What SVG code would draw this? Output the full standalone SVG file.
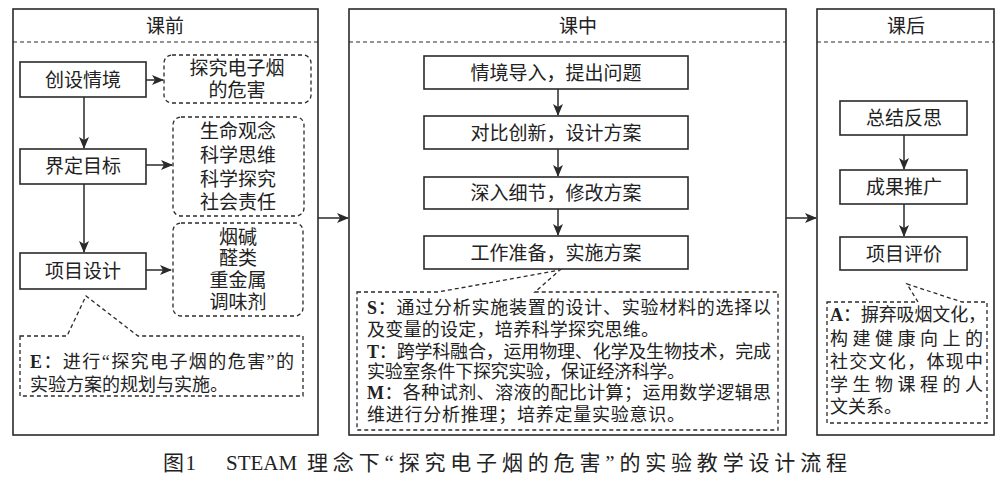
<svg xmlns="http://www.w3.org/2000/svg" width="1000" height="481" viewBox="0 0 1000 481">
<style>
text{font-family:"Liberation Serif","Noto Sans CJK SC",serif;fill:#222;dominant-baseline:central}
.t{font-size:19px;text-anchor:middle}
.c{font-size:18px}
.cap{font-size:21px}
.b{font-weight:bold}
.panel{fill:none;stroke:#2a2a2a;stroke-width:1.6}
.sep{fill:none;stroke:#2a2a2a;stroke-width:1.2;stroke-dasharray:4 3}
.node{fill:#fff;stroke:#2a2a2a;stroke-width:1.6}
.dbox{fill:#fff;stroke:#2a2a2a;stroke-width:1.3;stroke-dasharray:4 3}
.edge{fill:none;stroke:#2a2a2a;stroke-width:1.5;marker-end:url(#ah)}
</style>
<defs>
<marker id="ah" viewBox="0 0 12 10" refX="11" refY="5" markerWidth="12" markerHeight="10" markerUnits="userSpaceOnUse" orient="auto">
<path d="M0,0 L12,5 L0,10 L3,5 Z" fill="#2a2a2a"/>
</marker>
</defs>
<rect width="1000" height="481" fill="#fff"/>

<g id="panel-before">
<rect class="panel" x="13" y="9" width="305" height="426"/>
<line class="sep" x1="13" y1="42" x2="318" y2="42"/>
<text class="t" x="165" y="26">课前</text>
</g>
<g id="panel-during">
<rect class="panel" x="349" y="9" width="437" height="426"/>
<line class="sep" x1="349" y1="42" x2="786" y2="42"/>
<text class="t" x="578" y="26">课中</text>
</g>
<g id="panel-after">
<rect class="panel" x="817" y="9" width="177" height="426"/>
<line class="sep" x1="817" y1="42" x2="994" y2="42"/>
<text class="t" x="906" y="26">课后</text>
</g>

<g id="connectors">
<line class="edge" x1="146" y1="80" x2="163" y2="80"/>
<line class="edge" x1="146" y1="165" x2="172" y2="165"/>
<line class="edge" x1="146" y1="270" x2="171" y2="270"/>
<line class="edge" x1="84" y1="97" x2="84" y2="148"/>
<line class="edge" x1="84" y1="184" x2="84" y2="252"/>
<line class="edge" x1="558" y1="89" x2="558" y2="115"/>
<line class="edge" x1="558" y1="149" x2="558" y2="176"/>
<line class="edge" x1="558" y1="209" x2="558" y2="235"/>
<line class="edge" x1="904" y1="135" x2="904" y2="169"/>
<line class="edge" x1="904" y1="204" x2="904" y2="236"/>
<line class="edge" x1="318" y1="218" x2="348" y2="218"/>
<line class="edge" x1="786" y1="218" x2="816" y2="218"/>
</g>

<g id="n-chuangshe"><rect class="node" x="20" y="62" width="126" height="35"/><text class="t" x="83" y="80">创设情境</text></g>
<g id="n-weihai"><rect class="dbox" x="164" y="55" width="147" height="48" rx="8"/><text class="t" x="237" y="68">探究电子烟</text><text class="t" x="237" y="90">的危害</text></g>
<g id="n-jieding"><rect class="node" x="20" y="149" width="126" height="35"/><text class="t" x="83" y="166">界定目标</text></g>
<g id="n-suyang"><rect class="dbox" x="173" y="117" width="131" height="99" rx="8"/>
<text class="t" x="238" y="131">生命观念</text><text class="t" x="238" y="155">科学思维</text><text class="t" x="238" y="179">科学探究</text><text class="t" x="238" y="202">社会责任</text></g>
<g id="n-xiangmu"><rect class="node" x="20" y="253" width="126" height="36"/><text class="t" x="83" y="271">项目设计</text></g>
<g id="n-chengfen"><rect class="dbox" x="173" y="223" width="130" height="93" rx="8"/>
<text class="t" x="238" y="237">烟碱</text><text class="t" x="238" y="258">醛类</text><text class="t" x="238" y="280">重金属</text><text class="t" x="238" y="302">调味剂</text></g>
<g id="n-E">
<path class="dbox" d="M20,336 L67,336 L86,296 L138,336 L303,336 L303,396 L20,396 Z"/>
<text class="c" x="30" y="362" textLength="264" lengthAdjust="spacing"><tspan class="b">E</tspan>：进行“探究电子烟的危害”的</text>
<text class="c" x="30" y="385">实验方案的规划与实施。</text>
</g>

<g id="n-m1"><rect class="node" x="424" y="56" width="264" height="33"/><text class="t" x="556" y="73">情境导入，提出问题</text></g>
<g id="n-m2"><rect class="node" x="424" y="116" width="264" height="33"/><text class="t" x="556" y="133">对比创新，设计方案</text></g>
<g id="n-m3"><rect class="node" x="424" y="177" width="264" height="32"/><text class="t" x="556" y="193">深入细节，修改方案</text></g>
<g id="n-m4"><rect class="node" x="424" y="236" width="264" height="33"/><text class="t" x="556" y="253">工作准备，实施方案</text></g>
<g id="n-STM">
<path class="dbox" d="M357,292 L438,292 L560,270 L535,292 L778,292 L778,430 L357,430 Z"/>
<text class="c" x="367" y="308" textLength="404" lengthAdjust="spacing"><tspan class="b">S</tspan>：通过分析实施装置的设计、实验材料的选择以</text>
<text class="c" x="367" y="330" textLength="292" lengthAdjust="spacing">及变量的设定，培养科学探究思维。</text>
<text class="c" x="367" y="352" textLength="404" lengthAdjust="spacing"><tspan class="b">T</tspan>：跨学科融合，运用物理、化学及生物技术，完成</text>
<text class="c" x="367" y="372" textLength="318" lengthAdjust="spacing">实验室条件下探究实验，保证经济科学。</text>
<text class="c" x="367" y="393" textLength="404" lengthAdjust="spacing"><tspan class="b">M</tspan>：各种试剂、溶液的配比计算；运用数学逻辑思</text>
<text class="c" x="367" y="415" textLength="318" lengthAdjust="spacing">维进行分析推理；培养定量实验意识。</text>
</g>

<g id="n-r1"><rect class="node" x="840" y="101" width="127" height="34"/><text class="t" x="904" y="118">总结反思</text></g>
<g id="n-r2"><rect class="node" x="840" y="170" width="127" height="34"/><text class="t" x="904" y="187">成果推广</text></g>
<g id="n-r3"><rect class="node" x="840" y="237" width="127" height="33"/><text class="t" x="904" y="254">项目评价</text></g>
<g id="n-A">
<path class="dbox" d="M827,302 L918,302 L907,284 L962,302 L987,302 L987,423 L827,423 Z"/>
<text class="c" x="830" y="315" textLength="156" lengthAdjust="spacing"><tspan class="b">A</tspan>：摒弃吸烟文化，</text>
<text class="c" x="830" y="339" textLength="153" lengthAdjust="spacing">构建健康向上的</text>
<text class="c" x="830" y="362" textLength="153" lengthAdjust="spacing">社交文化，体现中</text>
<text class="c" x="830" y="385" textLength="153" lengthAdjust="spacing">学生物课程的人</text>
<text class="c" x="830" y="407">文关系。</text>
</g>

<g id="caption">
<text class="cap" x="163" y="463" textLength="33" lengthAdjust="spacing">图1</text>
<text class="cap" x="226" y="463">STEAM</text>
<text class="cap" x="307" y="463" textLength="540" lengthAdjust="spacing">理念下“探究电子烟的危害”的实验教学设计流程</text>
</g>
</svg>
